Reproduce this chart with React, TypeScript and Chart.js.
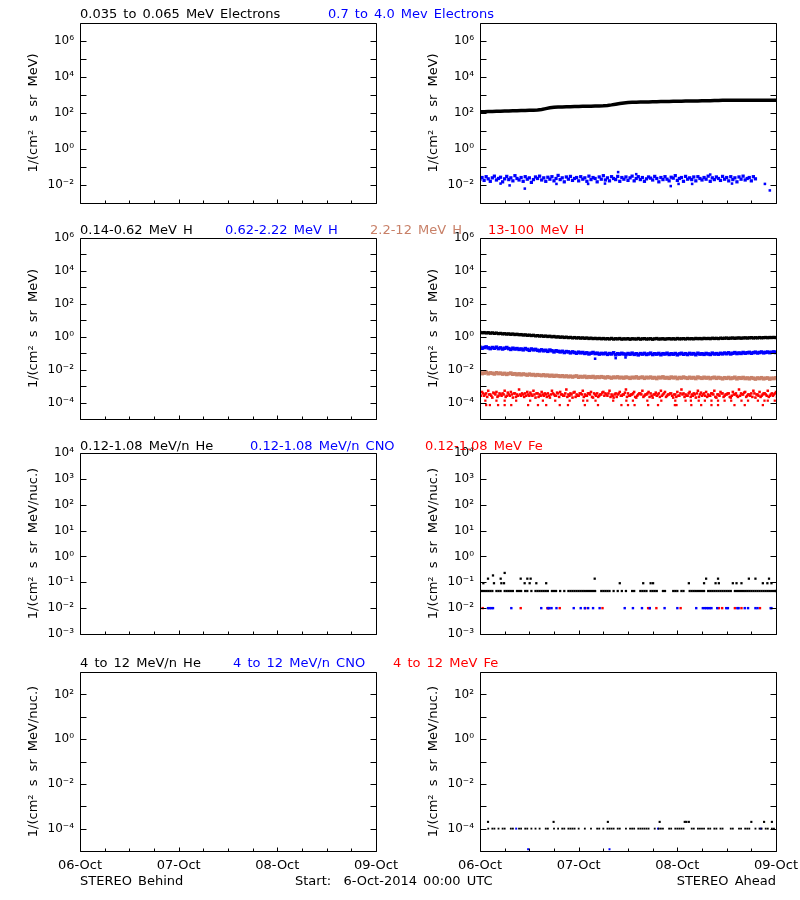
import React, { useEffect, useRef } from 'react';
import { Chart, registerables } from 'chart.js';

Chart.register(...registerables);

const FONT = "'DejaVu Sans', sans-serif";
const BLACK = '#000000';
const BLUE = '#0000ff';
const RED = '#ff0000';
const BROWN = 'rgb(200,128,104)';

// ---- axes / ticks ----
const DAY_LABELS = ['06-Oct', '07-Oct', '08-Oct', '09-Oct'];
const X_TICK_HOURS = [0, 6, 12, 18, 24, 30, 36, 42, 48, 54, 60, 66, 72];
const SLOT_HOURS = 0.5;

const ROW_Y_EXPS = [
  [-3, -2, -1, 0, 1, 2, 3, 4, 5, 6, 7],
  [-5, -4, -3, -2, -1, 0, 1, 2, 3, 4, 5, 6],
  [-3, -2, -1, 0, 1, 2, 3, 4],
  [-5, -4, -3, -2, -1, 0, 1, 2, 3],
];
const ROW_Y_LABELED = [
  [-2, 0, 2, 4, 6],
  [-4, -2, 0, 2, 4, 6],
  [-3, -2, -1, 0, 1, 2, 3, 4],
  [-4, -2, 0, 2],
];
const ROW_Y_TITLES = [
  '1/(cm² s sr MeV)',
  '1/(cm² s sr MeV)',
  '1/(cm² s sr MeV/nuc.)',
  '1/(cm² s sr MeV/nuc.)',
];

const ROW_TITLES = [
  ['0.035 to 0.065 MeV Electrons', '0.7 to 4.0 Mev Electrons'],
  ['0.14-0.62 MeV H', '0.62-2.22 MeV H', '2.2-12 MeV H', '13-100 MeV H'],
  ['0.12-1.08 MeV/n He', '0.12-1.08 MeV/n CNO', '0.12-1.08 MeV Fe'],
  ['4 to 12 MeV/n He', '4 to 12 MeV/n CNO', '4 to 12 MeV Fe'],
];
const ROW_TITLE_COLORS = [
  [BLACK, BLUE],
  [BLACK, BLUE, BROWN, RED],
  [BLACK, BLUE, RED],
  [BLACK, BLUE, RED],
];

// ---- data: STEREO Ahead ----
// Row 1: electrons
const BLACK_E_HOURLY = [117,118,120,122,124,126,128,130,132,134,136,138,140,142,148,158,175,195,208,214,218,221,224,227,230,234,237,240,243,246,250,262,282,310,338,362,380,390,397,403,408,414,420,426,432,437,441,445,449,453,457,461,465,469,473,478,486,495,502,504,506,507,508,509,510,511,511,512,512,513,513,514,514];
const BLUE_E = [
  0.021,0.026,0.018,0.029,0.022,0.016,0.025,0.031,0.019,0.023,
  0.027,0.015,0.022,0.03,0.02,0.025,0.017,0.033,0.023,0.019,
  0.026,0.016,0.029,0.021,0.025,0.014,0.02,0.028,0.023,0.031,
  0.019,0.025,0.016,0.027,0.021,0.029,0.017,0.023,0.034,0.02,
  0.025,0.015,0.028,0.021,0.03,0.018,0.023,0.026,0.017,0.029,
  0.021,0.025,0.016,0.031,0.02,0.026,0.023,0.015,0.028,0.021,
  0.033,0.019,0.025,0.017,0.029,0.023,0.02,0.03,0.016,0.026,
  0.021,0.028,0.018,0.025,0.031,0.017,0.023,0.029,0.02,0.026,
  0.016,0.022,0.028,0.024,0.019,0.03,0.023,0.015,0.026,0.02,
  0.029,0.021,0.017,0.027,0.024,0.033,0.018,0.023,0.026,0.016,
  0.03,0.021,0.025,0.02,0.028,0.017,0.029,0.023,0.019,0.026,
  0.021,0.031,0.016,0.025,0.02,0.028,0.023,0.018,0.03,0.021,
  0.026,0.017,0.029,0.02,0.025,0.015,0.028,0.021,0.031,0.019,
  0.023,0.026,0.017,0.029,0.022,
];
const BLUE_E_EXTRA = [[5,0.012],[7.2,0.0095],[10.9,0.0063],[18.6,0.0115],[26.3,0.0115],[30.4,0.012],[33.6,0.052],[38,0.04],[46.4,0.0087],[48.3,0.0115],[51.6,0.0115],[56,0.038],[61.3,0.012],[69.3,0.0115],[70.5,0.005]];

// Row 2: protons
const BLACK_H = [
  1.82,1.74,1.79,1.7,1.76,1.64,1.71,1.6,1.66,1.55,
  1.59,1.5,1.53,1.45,1.49,1.4,1.46,1.36,1.41,1.33,
  1.35,1.27,1.3,1.22,1.25,1.18,1.22,1.13,1.17,1.1,
  1.13,1.06,1.1,1.03,1.07,0.99,1.04,0.96,0.99,0.93,
  0.96,0.9,0.94,0.88,0.91,0.85,0.89,0.84,0.87,0.82,
  0.85,0.8,0.84,0.78,0.82,0.77,0.8,0.76,0.79,0.75,
  0.78,0.74,0.77,0.73,0.79,0.72,0.76,0.74,0.78,0.71,
  0.75,0.73,0.77,0.7,0.76,0.74,0.72,0.78,0.71,0.75,
  0.77,0.72,0.74,0.76,0.7,0.75,0.78,0.72,0.74,0.76,
  0.71,0.75,0.77,0.73,0.76,0.72,0.78,0.74,0.75,0.77,
  0.73,0.78,0.75,0.77,0.74,0.79,0.76,0.78,0.75,0.8,
  0.77,0.79,0.76,0.81,0.78,0.8,0.77,0.82,0.79,0.81,
  0.83,0.79,0.82,0.84,0.8,0.83,0.85,0.81,0.84,0.86,
  0.83,0.86,0.88,0.84,0.87,0.85,0.89,0.86,0.88,0.9,
  0.87,0.9,0.89,0.91,0.88,
];
const BLUE_H = [
  0.23,0.2,0.22,0.24,0.21,0.19,0.22,0.2,0.23,0.19,
  0.21,0.18,0.2,0.22,0.19,0.17,0.2,0.18,0.19,0.17,
  0.18,0.16,0.19,0.17,0.15,0.18,0.16,0.17,0.15,0.14,
  0.16,0.14,0.15,0.13,0.155,0.14,0.12,0.14,0.13,0.12,
  0.13,0.11,0.125,0.12,0.105,0.12,0.11,0.1,0.115,0.105,
  0.11,0.097,0.105,0.09,0.1,0.11,0.095,0.1,0.088,0.097,
  0.092,0.1,0.085,0.095,0.09,0.105,0.08,0.093,0.088,0.098,
  0.09,0.082,0.095,0.087,0.1,0.085,0.092,0.079,0.094,0.088,
  0.097,0.084,0.09,0.1,0.083,0.092,0.088,0.096,0.081,0.093,
  0.089,0.099,0.084,0.092,0.087,0.095,0.08,0.091,0.098,0.086,
  0.093,0.083,0.097,0.089,0.094,0.081,0.099,0.088,0.092,0.085,
  0.096,0.09,0.084,0.1,0.089,0.094,0.087,0.098,0.091,0.102,
  0.093,0.105,0.09,0.099,0.108,0.095,0.103,0.097,0.11,0.1,
  0.106,0.112,0.099,0.108,0.115,0.103,0.11,0.118,0.105,0.112,
  0.117,0.108,0.114,0.12,0.111,
];
const BLUE_H_EXTRA = [[28,0.046],[33,0.05],[35.4,0.055]];
const BROWN_H = [
  0.0065,0.0058,0.0062,0.0068,0.0057,0.0063,0.006,0.0055,0.0064,0.0058,
  0.0061,0.0054,0.0059,0.0052,0.0057,0.0061,0.0053,0.0056,0.005,0.0055,
  0.0049,0.0054,0.0051,0.0047,0.0053,0.0048,0.005,0.0045,0.0049,0.0046,
  0.0044,0.0048,0.0043,0.0046,0.0041,0.0045,0.004,0.0044,0.0042,0.0039,
  0.0042,0.0038,0.0041,0.0037,0.004,0.0036,0.0039,0.0041,0.0035,0.0038,
  0.0036,0.0039,0.0034,0.0037,0.0035,0.0038,0.0033,0.0036,0.0034,0.0037,
  0.0035,0.0032,0.0036,0.0034,0.0031,0.0035,0.0033,0.0036,0.0032,0.0034,
  0.0031,0.0035,0.0033,0.003,0.0034,0.0032,0.0036,0.0031,0.0033,0.0035,
  0.003,0.0034,0.0032,0.0035,0.0031,0.0033,0.0029,0.0034,0.0032,0.0036,
  0.0031,0.0033,0.003,0.0035,0.0032,0.0034,0.0029,0.0033,0.0031,0.0035,
  0.0032,0.003,0.0034,0.0031,0.0033,0.0029,0.0035,0.0032,0.003,0.0034,
  0.0031,0.0033,0.0029,0.0032,0.0034,0.003,0.0033,0.0031,0.0028,0.0032,
  0.003,0.0033,0.0029,0.0031,0.0034,0.0028,0.0032,0.003,0.0033,0.0029,
  0.0031,0.0028,0.0032,0.003,0.0027,0.0031,0.0029,0.0032,0.0028,0.003,
  0.0031,0.0027,0.003,0.0029,0.0032,
];
const RED_H = [
  3.1e-4,4.4e-4,2.6e-4,3.6e-4,5.2e-4,3.1e-4,2.0e-4,3.6e-4,4.4e-4,2.6e-4,
  3.1e-4,3.6e-4,5.2e-4,2.6e-4,3.1e-4,4.4e-4,2.0e-4,3.6e-4,3.1e-4,6.2e-4,
  2.6e-4,3.1e-4,3.6e-4,4.4e-4,2.6e-4,3.1e-4,5.2e-4,2.0e-4,3.6e-4,3.1e-4,
  4.4e-4,2.6e-4,3.1e-4,3.6e-4,2.0e-4,5.2e-4,3.1e-4,2.6e-4,3.6e-4,4.4e-4,
  3.1e-4,2.6e-4,6.2e-4,3.1e-4,3.6e-4,2.0e-4,4.4e-4,3.1e-4,2.6e-4,3.6e-4,
  5.2e-4,3.1e-4,2.6e-4,3.6e-4,4.4e-4,2.0e-4,3.1e-4,3.6e-4,2.6e-4,3.1e-4,
  4.4e-4,3.6e-4,2.6e-4,5.2e-4,3.1e-4,2.0e-4,3.6e-4,3.1e-4,4.4e-4,2.6e-4,
  3.1e-4,6.2e-4,3.6e-4,2.6e-4,3.1e-4,4.4e-4,2.0e-4,3.1e-4,3.6e-4,5.2e-4,
  2.6e-4,3.1e-4,4.4e-4,3.6e-4,2.0e-4,3.1e-4,2.6e-4,3.6e-4,5.2e-4,3.1e-4,
  4.4e-4,2.6e-4,3.1e-4,3.6e-4,2.0e-4,3.1e-4,4.4e-4,2.6e-4,6.2e-4,3.6e-4,
  3.1e-4,2.6e-4,4.4e-4,3.1e-4,3.6e-4,2.0e-4,5.2e-4,3.1e-4,2.6e-4,3.6e-4,
  4.4e-4,3.1e-4,2.6e-4,3.6e-4,5.2e-4,2.0e-4,3.1e-4,4.4e-4,3.6e-4,2.6e-4,
  3.1e-4,3.6e-4,2.0e-4,4.4e-4,3.1e-4,2.6e-4,6.2e-4,3.6e-4,3.1e-4,4.4e-4,
  2.6e-4,3.1e-4,3.6e-4,5.2e-4,2.0e-4,3.1e-4,4.4e-4,2.6e-4,3.6e-4,3.1e-4,
  5.2e-4,2.6e-4,3.6e-4,3.1e-4,4.4e-4,
];
const RED_H_B = [
  2.6e-4,3.6e-4,3.1e-4,2.2e-4,3.1e-4,2.6e-4,4.0e-4,3.1e-4,2.2e-4,3.6e-4,
  2.6e-4,3.1e-4,2.2e-4,4.0e-4,2.6e-4,3.1e-4,3.6e-4,2.2e-4,2.6e-4,3.1e-4,
  3.6e-4,2.2e-4,2.6e-4,3.1e-4,4.0e-4,2.6e-4,3.1e-4,3.6e-4,2.2e-4,2.6e-4,
  3.1e-4,3.6e-4,2.2e-4,2.6e-4,3.1e-4,3.6e-4,2.6e-4,4.0e-4,2.2e-4,3.1e-4,
  2.6e-4,3.6e-4,2.2e-4,2.6e-4,3.1e-4,4.0e-4,2.2e-4,2.6e-4,3.6e-4,3.1e-4,
  2.2e-4,2.6e-4,3.6e-4,3.1e-4,2.2e-4,3.6e-4,2.6e-4,2.2e-4,3.1e-4,4.0e-4,
  2.6e-4,3.1e-4,3.6e-4,2.2e-4,2.6e-4,3.1e-4,2.2e-4,3.6e-4,2.6e-4,3.1e-4,
  4.0e-4,2.2e-4,2.6e-4,3.1e-4,3.6e-4,2.2e-4,2.6e-4,3.6e-4,3.1e-4,2.2e-4,
  3.1e-4,3.6e-4,2.2e-4,2.6e-4,3.1e-4,4.0e-4,3.1e-4,2.2e-4,2.6e-4,3.6e-4,
  2.2e-4,3.1e-4,3.6e-4,2.6e-4,3.1e-4,2.2e-4,2.6e-4,3.6e-4,3.1e-4,2.2e-4,
  2.6e-4,3.6e-4,2.2e-4,2.6e-4,3.1e-4,3.6e-4,2.2e-4,4.0e-4,3.1e-4,2.6e-4,
  2.2e-4,2.6e-4,3.6e-4,3.1e-4,2.2e-4,3.1e-4,2.6e-4,3.6e-4,2.2e-4,3.1e-4,
  3.6e-4,2.2e-4,2.6e-4,3.1e-4,3.6e-4,2.2e-4,2.6e-4,3.1e-4,4.0e-4,2.2e-4,
  3.1e-4,2.6e-4,2.2e-4,3.6e-4,3.1e-4,2.6e-4,2.2e-4,3.1e-4,3.6e-4,2.6e-4,
  2.2e-4,3.1e-4,2.6e-4,3.6e-4,2.2e-4,
];
const RED_H_LOW = [
  [1.3,1.3e-4],[4,1.3e-4],[6,1.3e-4],[8.8,1.3e-4],[12.2,1.3e-4],[15.3,1.3e-4],[18.3,1.3e-4],[21.8,1.3e-4],[25.1,1.3e-4],[26.1,1.3e-4],
  [28.1,1.3e-4],[32.4,1.3e-4],[35.6,1.3e-4],[37.2,1.3e-4],[40.7,1.3e-4],[44.1,1.3e-4],[47.5,1.3e-4],[50,1.3e-4],[51.3,1.3e-4],[53.2,1.3e-4],
  [54.7,1.3e-4],[56.3,1.3e-4],[57.9,1.3e-4],[59.5,1.3e-4],[61.1,1.3e-4],[63.6,1.3e-4],[65.2,1.3e-4],[67.6,1.3e-4],[69.2,1.3e-4],[70,1.3e-4],[71.7,1.3e-4],
  [1.5,7e-5],[2.4,7e-5],[4.4,7e-5],[6,7e-5],[7.6,7e-5],[11.7,7e-5],[14.1,7e-5],[16.1,7e-5],[19.4,7e-5],[21.4,7e-5],
  [25.5,7e-5],[28.7,7e-5],[34.4,7e-5],[36,7e-5],[37.6,7e-5],[40.9,7e-5],[43.3,7e-5],[47.4,7e-5],[47.8,7e-5],[51.4,7e-5],
  [53.8,7e-5],[56.3,7e-5],[57.9,7e-5],[61.9,7e-5],[64.4,7e-5],[68.8,7e-5],
];

// Row 3: 0.12-1.08 MeV/n ions
const HE_LOW = [
  .046,.046,.046,.046,.046,.046,.046,null,.046,.046,
  .046,null,.046,.046,.046,.046,.046,null,.046,.046,
  .046,null,.046,.046,null,.046,null,.046,.046,.046,
  .046,.046,.046,.046,null,.046,.046,.046,null,.046,
  null,.046,null,.046,.046,.046,.046,.046,.046,.046,
  .046,.046,.046,.046,.046,.046,.046,null,null,.046,
  .046,.046,.046,.046,null,.046,null,.046,null,.046,
  null,.046,null,null,.046,.046,null,null,.046,.046,
  .046,.046,null,.046,.046,.046,.046,null,null,.046,
  .046,null,null,null,.046,.046,.046,null,.046,.046,
  null,null,.046,.046,.046,.046,.046,.046,.046,.046,
  null,.046,.046,.046,.046,.046,.046,.046,.046,.046,
  .046,.046,.046,null,.046,.046,.046,.046,.046,.046,
  .046,.046,.046,.046,.046,.046,.046,.046,.046,.046,
  .046,.046,.046,.046,.046,
];
const HE_LOW_HIGH = [
  [0.81,0.092],[1.95,0.138],[3.16,0.184],[3.4,0.092],[5.03,0.138],[5.19,0.092],[5.84,0.092],[6,0.23],[9.9,0.138],[10.86,0.092],
  [11.51,0.138],[12.08,0.092],[12.32,0.138],[13.7,0.092],[16.1,0.092],[27.9,0.138],[34,0.092],[39.7,0.092],[41.5,0.092],[42.1,0.092],
  [50.8,0.092],[54.5,0.092],[55,0.138],[57.3,0.092],[57.9,0.138],[58.1,0.092],[61.5,0.092],[62.4,0.092],[63.6,0.092],[65.4,0.138],
  [67,0.138],[68.8,0.092],[69.9,0.092],[70.3,0.138],[70.9,0.092],
];
const CNO_LOW = [
  [1.95,.01],[2.35,.01],[2.76,.01],[3.16,.01],[7.62,.01],[14.9,.01],[16.5,.01],[16.9,.01],[17.4,.01],[18.6,.01],
  [22.8,.01],[24.5,.01],[25.5,.01],[26.3,.01],[27.5,.01],[29.1,.01],[35.2,.01],[37.2,.01],[39.4,.01],[41.3,.01],
  [44.9,.01],[48,.01],[52.6,.01],[54.2,.01],[54.7,.01],[55.1,.01],[55.5,.01],[55.9,.01],[56.3,.01],[57.7,.01],
  [59.9,.01],[60.3,.01],[62.6,.01],[62.9,.01],[64.4,.01],[65.2,.01],[67,.01],[67.5,.01],[70.7,.01],[70.9,.01],
];
const FE_LOW = [
  [0.65,.01],[9.9,.01],[16.4,.01],[16.7,.01],[19.4,.01],[25.6,.01],[29.8,.01],[40.9,.01],[41.3,.01],[42.9,.01],
  [48.8,.01],[58.1,.01],[58.9,.01],[62,.01],[63.6,.01],[68.1,.01],
];

// Row 4: 4-12 MeV/n ions
const HE_HIGH = [
  null,null,null,null,1e-4,null,1e-4,1e-4,null,1e-4,
  null,1e-4,1e-4,null,null,1e-4,1e-4,null,null,1e-4,
  1e-4,null,1e-4,1e-4,null,1e-4,null,1e-4,null,1e-4,
  null,null,1e-4,1e-4,null,null,1e-4,null,1e-4,null,
  1e-4,1e-4,null,1e-4,1e-4,1e-4,1e-4,null,1e-4,null,
  null,1e-4,null,null,1e-4,null,null,1e-4,1e-4,null,
  1e-4,null,1e-4,1e-4,1e-4,1e-4,null,1e-4,1e-4,null,
  null,1e-4,null,1e-4,1e-4,1e-4,null,1e-4,1e-4,1e-4,
  1e-4,1e-4,1e-4,null,null,1e-4,null,1e-4,1e-4,1e-4,
  null,null,1e-4,1e-4,null,1e-4,1e-4,1e-4,1e-4,1e-4,
  null,null,null,1e-4,1e-4,null,1e-4,1e-4,1e-4,1e-4,
  null,1e-4,1e-4,null,1e-4,1e-4,null,1e-4,1e-4,null,
  null,null,1e-4,1e-4,null,null,1e-4,1e-4,null,1e-4,
  1e-4,1e-4,null,null,1e-4,null,1e-4,1e-4,null,1e-4,
  1e-4,null,1e-4,1e-4,null,
];
const HE_HIGH_UP = [[1.95,2e-4],[17.9,2e-4],[31.1,2e-4],[43.7,2e-4],[49.8,2e-4],[50.2,2e-4],[50.8,2e-4],[66,2e-4],[69.1,2e-4],[71,2e-4]];
const CNO_HIGH = [[8.8,1e-4],[11.7,1.2e-5],[31.5,1.2e-5],[43.3,1e-4],[68.3,1e-4]];

// ---- layout ----
const PLOT_TOPS = [23, 238, 453, 672];
const PLOT_BOTTOMS = [203, 419, 634, 851];
const TITLE_BASELINES = [18, 234, 450, 667];
const TITLE_X = [[80, 328], [80, 225, 370, 488], [80, 250, 425], [80, 233, 393]];
const CANVAS_PAD_TOP = 12;

const SUP: Record<string, string> = { '-': '⁻', '0': '⁰', '1': '¹', '2': '²', '3': '³', '4': '⁴', '5': '⁵', '6': '⁶', '7': '⁷', '8': '⁸', '9': '⁹' };
const sup = (n: number) => String(n).split('').map((c) => SUP[c]).join('');

const slotPts = (vals: (number | null)[], offset = 0) => vals.map((v, i) => ({ x: i * SLOT_HOURS + offset, y: v }));
const hourPts = (vals: number[]) => vals.map((v, i) => ({ x: i, y: v }));
const pairPts = (pairs: number[][]) => pairs.map(([x, y]) => ({ x, y }));

const dots = (data: any[], color: string, r: number) => ({
  type: 'scatter' as const,
  data,
  backgroundColor: color,
  borderColor: color,
  pointStyle: 'rect',
  pointRadius: r,
  pointBorderWidth: 0,
  pointHoverRadius: r,
  showLine: false,
});

function datasetsFor(row: number, col: number): any[] {
  if (col === 0) return [];
  if (row === 0)
    return [
      dots(slotPts(BLUE_E), BLUE, 2.3),
      dots(pairPts(BLUE_E_EXTRA), BLUE, 1.8),
      { type: 'line', data: hourPts(BLACK_E_HOURLY), borderColor: BLACK, borderWidth: 3.5, pointRadius: 0, showLine: true, tension: 0 },
    ];
  if (row === 1)
    return [
      dots(slotPts(BLACK_H), BLACK, 2.3),
      dots(slotPts(BLUE_H), BLUE, 2.5),
      dots(pairPts(BLUE_H_EXTRA), BLUE, 1.8),
      dots(slotPts(BROWN_H), BROWN, 2.6),
      dots(slotPts(RED_H), RED, 1.8),
      dots(slotPts(RED_H_B, 0.25), RED, 1.8),
      dots(pairPts(RED_H_LOW), RED, 1.6),
    ];
  if (row === 2)
    return [
      dots(slotPts(HE_LOW), BLACK, 1.6),
      dots(pairPts(HE_LOW_HIGH), BLACK, 1.6),
      dots(pairPts(CNO_LOW), BLUE, 1.7),
      dots(pairPts(FE_LOW), RED, 1.7),
    ];
  return [
    dots(slotPts(HE_HIGH), BLACK, 1.3),
    dots(pairPts(HE_HIGH_UP), BLACK, 1.5),
    dots(pairPts(CNO_HIGH), BLUE, 1.4),
  ];
}

const frameTicks = {
  id: 'frameTicks',
  beforeDraw(chart: any) {
    chart.ctx.wordSpacing = '4px';
  },
  afterDraw(chart: any) {
    const { ctx, chartArea } = chart;
    const { left, right, top, bottom } = chartArea;
    const xs = chart.scales.x;
    const ys = chart.scales.y;
    ctx.save();
    ctx.strokeStyle = '#000';
    ctx.lineWidth = 1;
    ctx.beginPath();
    ctx.rect(left + 0.5, top + 0.5, right - left, bottom - top);
    xs.ticks.forEach((t: any) => {
      const px = Math.round(xs.getPixelForValue(t.value)) + 0.5;
      const len = t.value % 24 === 0 ? 4 : 3;
      ctx.moveTo(px, bottom + 0.5);
      ctx.lineTo(px, bottom + 0.5 - len);
    });
    ys.ticks.forEach((t: any) => {
      const py = Math.round(ys.getPixelForValue(t.value)) + 0.5;
      ctx.moveTo(left + 0.5, py);
      ctx.lineTo(left + 0.5 + 6, py);
      ctx.moveTo(right + 0.5, py);
      ctx.lineTo(right + 0.5 - 6, py);
    });
    ctx.stroke();
    ctx.restore();
  },
};

function Panel({ row, col }: { row: number; col: number }) {
  const ref = useRef<HTMLCanvasElement>(null);
  const xh = row === 3 ? 26 : 6;
  const height = PLOT_BOTTOMS[row] - PLOT_TOPS[row] + CANVAS_PAD_TOP + xh;
  useEffect(() => {
    const exps = ROW_Y_EXPS[row];
    const labeled = ROW_Y_LABELED[row];
    const chart = new Chart(ref.current as HTMLCanvasElement, {
      type: 'scatter',
      data: { datasets: datasetsFor(row, col) },
      options: {
        responsive: false,
        animation: false,
        events: [],
        layout: { padding: { top: CANVAS_PAD_TOP, right: 24, bottom: 0, left: 0 } },
        plugins: { legend: { display: false }, tooltip: { enabled: false }, title: { display: false } },
        scales: {
          x: {
            type: 'linear',
            min: 0,
            max: 72,
            afterBuildTicks: (s: any) => {
              s.ticks = X_TICK_HOURS.map((v) => ({ value: v }));
            },
            afterFit: (s: any) => {
              s.height = xh;
              s.paddingLeft = 0;
              s.paddingRight = 0;
            },
            grid: { display: false, drawTicks: false },
            border: { display: false },
            ticks: {
              display: row === 3,
              autoSkip: false,
              maxRotation: 0,
              padding: 7,
              color: '#000',
              font: { family: FONT, size: 13 },
              callback: (v: any) => (Number(v) % 24 === 0 ? DAY_LABELS[Number(v) / 24] : ''),
            },
          },
          y: {
            type: 'logarithmic',
            min: Math.pow(10, exps[0]),
            max: Math.pow(10, exps[exps.length - 1]),
            afterBuildTicks: (s: any) => {
              s.ticks = exps.map((e) => ({ value: Math.pow(10, e) }));
            },
            afterFit: (s: any) => {
              s.width = 80;
              s.paddingTop = 0;
              s.paddingBottom = 0;
            },
            grid: { display: false, drawTicks: false },
            border: { display: false },
            ticks: {
              autoSkip: false,
              padding: 6,
              color: '#000',
              font: { family: FONT, size: 12 },
              callback: (v: any) => {
                const e = Math.round(Math.log10(Number(v)));
                return labeled.includes(e) ? '10' + sup(e) : '';
              },
            },
            title: {
              display: true,
              text: ROW_Y_TITLES[row],
              color: '#000',
              font: { family: FONT, size: 13 },
              padding: { top: 26, bottom: 0 },
            },
          },
        },
      } as any,
      plugins: [frameTicks],
    });
    return () => chart.destroy();
  }, [row, col]);
  return (
    <canvas
      ref={ref}
      width={400}
      height={height}
      style={{ position: 'absolute', left: col * 400, top: PLOT_TOPS[row] - CANVAS_PAD_TOP, width: 400, height }}
    />
  );
}

const textStyle = (color: string): React.CSSProperties => ({
  position: 'absolute',
  font: `13px ${FONT}`,
  lineHeight: '13px',
  wordSpacing: '2px',
  whiteSpace: 'pre',
  color,
});

export default function App() {
  const rows = [0, 1, 2, 3];
  return (
    <div style={{ position: 'absolute', left: 0, top: 0, width: 800, height: 900, background: '#fff', overflow: 'hidden' }}>
      {rows.map((r) => (
        <React.Fragment key={r}>
          <Panel row={r} col={0} />
          <Panel row={r} col={1} />
        </React.Fragment>
      ))}
      {rows.map((r) =>
        ROW_TITLES[r].map((t, i) => (
          <div key={`t${r}-${i}`} style={{ ...textStyle(ROW_TITLE_COLORS[r][i]), left: TITLE_X[r][i], top: TITLE_BASELINES[r] - 11 }}>
            {t}
          </div>
        ))
      )}
      <div style={{ ...textStyle(BLACK), left: 80, top: 885 - 11 }}>STEREO Behind</div>
      <div style={{ ...textStyle(BLACK), left: 295, top: 885 - 11 }}>{'Start:  6-Oct-2014 00:00 UTC'}</div>
      <div style={{ ...textStyle(BLACK), right: 24, top: 885 - 11 }}>STEREO Ahead</div>
    </div>
  );
}
